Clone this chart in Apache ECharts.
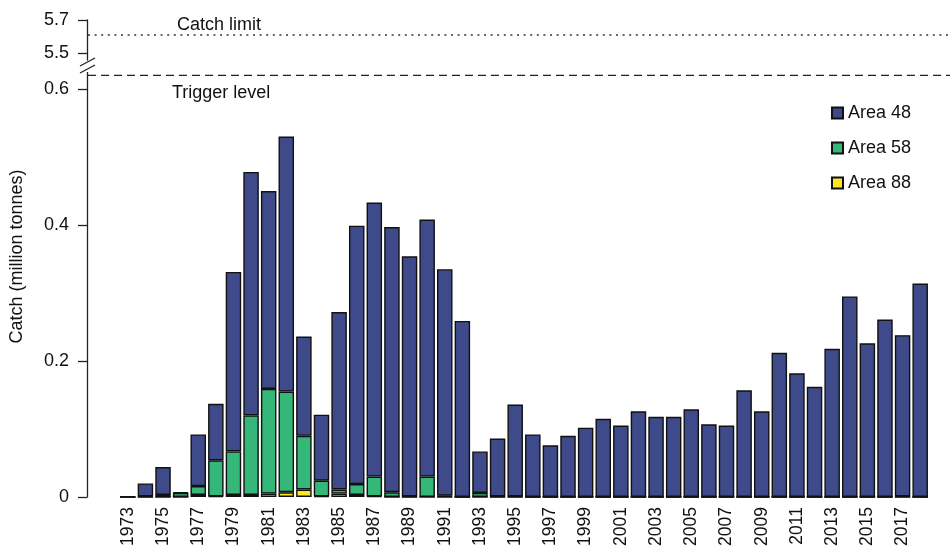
<!DOCTYPE html>
<html>
<head>
<meta charset="utf-8">
<script src="https://cdn.jsdelivr.net/npm/echarts@6/dist/echarts.min.js"></script>
<style>html,body{margin:0;padding:0;background:#fff;}#main{width:950px;height:547px;}</style>
</head>
<body>
<div id="main"></div>
<script>
const years = [];
for (let y = 1973; y <= 2018; y++) years.push(String(y));

const area88 = [0,0,0,0,0.003,0.001,0.003,0.003,0.005,0.007,0.011,0.001,0.005,0.003,0.001,0,0,0,0,0,0,0,0,
  0,0,0,0,0,0,0,0,0,0,0,0,0,0,0,0,0,0,0,0,0,0,0];
const area58 = [0,0.001,0.003,0.006,0.013,0.053,0.064,0.117,0.154,0.148,0.079,0.023,0.006,0.016,0.029,0.007,0.001,0.030,0.002,0,0.006,0.001,0.001,
  0,0,0,0,0,0,0,0,0,0,0,0,0,0,0,0,0,0,0,0,0,0.001,0];
const area48 = [0.001,0.019,0.041,0.001,0.076,0.083,0.264,0.358,0.291,0.375,0.146,0.097,0.261,0.380,0.403,0.390,0.353,0.378,0.333,0.259,0.061,0.085,0.135,
  0.092,0.076,0.090,0.102,0.115,0.105,0.126,0.118,0.118,0.129,0.107,0.105,0.157,0.126,0.212,0.182,0.162,0.218,0.295,0.226,0.261,0.237,0.314];

const lowerTicks = [0, 0.2, 0.4, 0.6];
const upperTicks = [5.5, 5.7];
const triggerLevel = 0.62;
const catchLimit = 5.61;

const FONT = '"Liberation Sans", Arial, Helvetica, sans-serif';
const GRID_LEFT = 119, AXIS_OFFSET = 32;
const edge = '#111';

const chart = echarts.init(document.getElementById('main'), null, {renderer: 'canvas'});

function yAxisCfg(idx, min, max, ticks, fmt) {
  return {
    gridIndex: idx, type: 'value', min: min, max: max, offset: AXIS_OFFSET,
    axisLine: {show: true, lineStyle: {color: '#222', width: 1.3}},
    axisTick: {show: true, length: 9, customValues: ticks, lineStyle: {color: '#222', width: 1.3}},
    axisLabel: {customValues: ticks, formatter: fmt, margin: 18, fontSize: 18, color: '#111', fontFamily: FONT},
    splitLine: {show: false}
  };
}

const barCommon = {type: 'bar', stack: 'catch', xAxisIndex: 1, yAxisIndex: 1, barWidth: '88%'};

chart.setOption({
  animation: false,
  backgroundColor: '#fff',
  textStyle: {fontFamily: FONT},
  grid: [
    {left: GRID_LEFT, right: 21, top: 20, height: 40, outerBoundsMode: 'none'},
    {left: GRID_LEFT, right: 21, top: 72, bottom: 50, outerBoundsMode: 'none'}
  ],
  xAxis: [
    {gridIndex: 0, type: 'category', data: years, show: false},
    {gridIndex: 1, type: 'category', data: years,
     axisLine: {show: false}, axisTick: {show: false},
     axisLabel: {rotate: 90, interval: 1, fontSize: 17.5, color: '#111', margin: 10, fontFamily: FONT}}
  ],
  yAxis: [
    yAxisCfg(0, 5.46, 5.7, upperTicks, v => v.toFixed(1)),
    yAxisCfg(1, 0, 0.625, lowerTicks, v => v === 0 ? '0' : v.toFixed(1))
  ],
  legend: {
    data: ['Area 48', 'Area 58', 'Area 88'],
    orient: 'vertical', left: 826, top: 99,
    icon: 'rect', itemWidth: 11, itemHeight: 11, itemGap: 17,
    textStyle: {fontSize: 18, color: '#111', fontFamily: FONT}
  },
  series: [
    {type: 'line', xAxisIndex: 0, yAxisIndex: 0, data: [], silent: true},
    Object.assign({name: 'Area 88', data: area88, itemStyle: {color: '#FDE725', borderColor: edge, borderWidth: 1.4}}, barCommon),
    Object.assign({name: 'Area 58', data: area58, itemStyle: {color: '#35B779', borderColor: edge, borderWidth: 1.4}}, barCommon),
    Object.assign({name: 'Area 48', data: area48, itemStyle: {color: '#3E4A89', borderColor: edge, borderWidth: 1.4}}, barCommon)
  ]
});

const axisX = GRID_LEFT - AXIS_OFFSET;
const yTrig = chart.convertToPixel({yAxisIndex: 1}, triggerLevel);
const yLim = chart.convertToPixel({yAxisIndex: 0}, catchLimit);
const yUpBottom = chart.convertToPixel({yAxisIndex: 0}, 5.46);
const yLoTop = chart.convertToPixel({yAxisIndex: 1}, 0.625);
const yAll0 = chart.convertToPixel({yAxisIndex: 0}, 5.7);
const yAll1 = chart.convertToPixel({yAxisIndex: 1}, 0);

chart.setOption({
  graphic: [
    {type: 'line', shape: {x1: axisX + 1, y1: yLim, x2: 950, y2: yLim},
     style: {stroke: '#333', lineWidth: 1.3, lineDash: [2, 4.6]}},
    {type: 'line', shape: {x1: axisX + 1, y1: yTrig, x2: 950, y2: yTrig},
     style: {stroke: '#222', lineWidth: 1.3, lineDash: [8, 5]}},
    {type: 'rect', shape: {x: axisX - 2, y: yUpBottom + 1, width: 4, height: yLoTop - yUpBottom - 1},
     style: {fill: '#fff'}, z: 50},
    {type: 'line', shape: {x1: axisX - 7, y1: yUpBottom + 6, x2: axisX + 8, y2: yUpBottom - 2},
     style: {stroke: '#222', lineWidth: 1.4}, z: 60},
    {type: 'line', shape: {x1: axisX - 7, y1: yUpBottom + 13, x2: axisX + 8, y2: yUpBottom + 5},
     style: {stroke: '#222', lineWidth: 1.4}, z: 60},
    {type: 'text', left: 177, top: yLim - 19,
     style: {text: 'Catch limit', fontSize: 18, fill: '#111', fontFamily: FONT}},
    {type: 'text', left: 172, top: yTrig + 9,
     style: {text: 'Trigger level', fontSize: 18, fill: '#111', fontFamily: FONT}},
    {type: 'text', x: 17, y: (yAll0 + yAll1) / 2 - 2, rotation: Math.PI / 2,
     style: {text: 'Catch (million tonnes)', fontSize: 18, fill: '#111', fontFamily: FONT,
             align: 'center', verticalAlign: 'middle'}}
  ]
});
</script>
</body>
</html>
